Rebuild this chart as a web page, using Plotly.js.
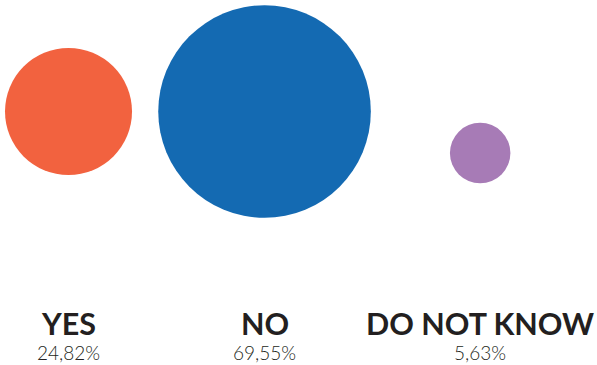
<!DOCTYPE html>
<html>
<head>
<meta charset="utf-8">
<script src="https://cdn.plot.ly/plotly-3.0.1.min.js"></script>
<style>html,body{margin:0;padding:0;background:#fff;}#chart{width:597px;height:365px;}</style>
</head>
<body>
<div id="chart"></div>
<script>
const categories = ["YES", "NO", "DO NOT KNOW"];
const values = [24.82, 69.55, 5.63];
const valueLabels = ["24,82%", "69,55%", "5,63%"];
const colors = ["#F2623F", "#146AB2", "#A77BB6"];
const xSlots = [0, 1, 2.1];
const yLevels = [0, 0, -1];

const trace = {
  type: "scatter",
  mode: "markers",
  x: xSlots,
  y: yLevels,
  text: categories,
  hoverinfo: "text",
  marker: {
    size: values,
    sizemode: "area",
    sizeref: 0.003078,
    color: colors,
    opacity: 1,
    line: {width: 0}
  }
};

const annotations = [];
categories.forEach((c, i) => {
  annotations.push({
    x: xSlots[i], xref: "x", y: 0.115, yref: "paper",
    text: "<b>" + c + "</b>", showarrow: false,
    xanchor: "center", yanchor: "middle",
    font: {family: "Lato, 'Noto Sans', sans-serif", size: 30.5, color: "#231F20", weight: 700}
  });
  annotations.push({
    x: xSlots[i], xref: "x", y: 0.0356, yref: "paper",
    text: valueLabels[i], showarrow: false,
    xanchor: "center", yanchor: "middle",
    font: {family: "Lato, 'Noto Sans', sans-serif", size: 19, color: "#231F20", weight: 300}
  });
});

const layout = {
  width: 597, height: 365,
  margin: {l: 0, r: 0, t: 0, b: 0},
  paper_bgcolor: "#ffffff", plot_bgcolor: "#ffffff",
  showlegend: false,
  xaxis: {range: [-0.3495, 2.696], visible: false, fixedrange: true},
  yaxis: {range: [-6.108, 2.687], visible: false, fixedrange: true},
  annotations: annotations
};

Plotly.newPlot("chart", [trace], layout, {displayModeBar: false, staticPlot: true});
</script>
</body>
</html>
